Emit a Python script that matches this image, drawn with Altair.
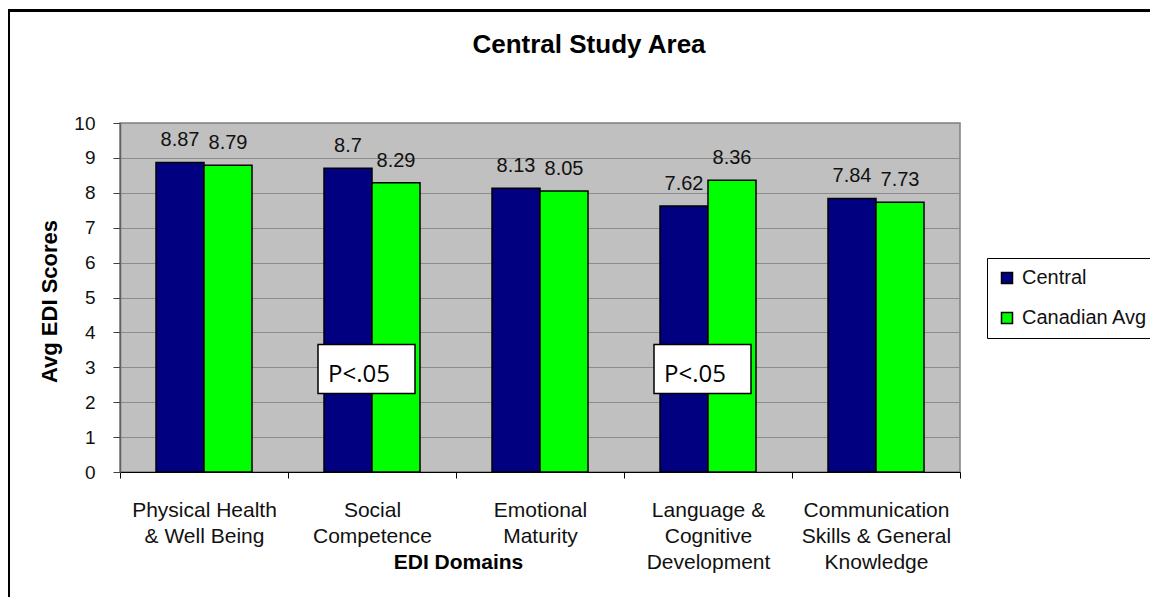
import altair as alt
import pandas as pd

# ---------------- data ----------------
TITLE = "Central Study Area"
X_TITLE = "EDI Domains"
Y_TITLE = "Avg EDI Scores"
categories = [
    "Physical Health|& Well Being",
    "Social|Competence",
    "Emotional|Maturity",
    "Language &|Cognitive|Development",
    "Communication|Skills & General|Knowledge",
]
series = ["Central", "Canadian Avg"]
central = [8.87, 8.7, 8.13, 7.62, 7.84]
canadian = [8.79, 8.29, 8.05, 8.36, 7.73]
central_labels = ["8.87", "8.7", "8.13", "7.62", "7.84"]
canadian_labels = ["8.79", "8.29", "8.05", "8.36", "7.73"]
colors = ["#000080", "#00FF00"]
sig_categories = ["Social|Competence", "Language &|Cognitive|Development"]
sig_text = "P<.05"
y_ticks = [0, 1, 2, 3, 4, 5, 6, 7, 8, 9, 10]

rows = []
for i, c in enumerate(categories):
    rows.append({"category": c, "series": series[0], "value": central[i], "label": central_labels[i]})
    rows.append({"category": c, "series": series[1], "value": canadian[i], "label": canadian_labels[i]})
df = pd.DataFrame(rows)

sig_df = pd.DataFrame({
    "category": sig_categories,
    "value": [2.25] * len(sig_categories),
    "value2": [3.65] * len(sig_categories),
    "text": [sig_text] * len(sig_categories),
})

FONT = "Liberation Sans"

x_axis = alt.Axis(
    title=X_TITLE,
    labelExpr="split(datum.label, '|')",
    labelAngle=0,
    labelFont=FONT,
    labelFontSize=21,
    labelLineHeight=26,
    labelBaseline="top",
    labelPadding=21,
    labelColor="#111111",
    labelOverlap=False,
    tickSize=6,
    tickBand="extent",
    tickColor="#000000",
    domainColor="#000000",
    domainWidth=1,
    grid=False,
    titleFont=FONT,
    titleFontSize=21,
    titleFontWeight="bold",
    titleX=338,
    titleY=96,
    titleAlign="center",
    titleBaseline="alphabetic",
    titleColor="#000000",
)

y_axis = alt.Axis(
    title=Y_TITLE,
    values=y_ticks,
    tickCount=len(y_ticks) + 2,
    labelOverlap=False,
    labelFont=FONT,
    labelFontSize=19,
    labelPadding=18,
    labelColor="#111111",
    tickSize=7,
    tickColor="#404040",
    domainColor="#606060",
    domainWidth=1.5,
    grid=True,
    gridColor="#8c8c8c",
    gridWidth=1,
    titleFont=FONT,
    titleFontSize=22,
    titleFontWeight="bold",
    titleAngle=270,
    titleX=-71,
    titleY=178,
    titleAlign="center",
    titleBaseline="middle",
    titleColor="#000000",
)

x_scale = alt.Scale(domain=categories, paddingInner=0, paddingOuter=0)
y_scale = alt.Scale(domain=[0, 10], nice=False, zero=True)


def X():
    return alt.X("category:N", sort=categories, scale=x_scale, axis=x_axis)


def Y(field="value"):
    return alt.Y(f"{field}:Q", scale=y_scale, axis=y_axis)


off = alt.XOffset("series:N", sort=series,
                  scale=alt.Scale(domain=series, paddingInner=0, paddingOuter=0.75))

bars = alt.Chart(df).mark_bar(stroke="#000000", strokeWidth=1.5).encode(
    x=X(),
    xOffset=off,
    y=Y(),
    color=alt.Color(
        "series:N",
        sort=series,
        scale=alt.Scale(domain=series, range=colors),
        legend=alt.Legend(
            title=None,
            orient="none",
            legendX=867,
            legendY=135,
            padding=10,
            rowPadding=20,
            symbolType="square",
            symbolSize=121,
            symbolStrokeColor="#000000",
            symbolStrokeWidth=1.5,
            symbolOpacity=1,
            labelFont=FONT,
            labelFontSize=20,
            labelOffset=5,
            labelColor="#111111",
            strokeColor="#000000",
            fillColor="#ffffff",
            cornerRadius=0,
        ),
    ),
)

value_labels = alt.Chart(df).mark_text(
    baseline="alphabetic", align="center", dy=-16, font=FONT, fontSize=20, color="#111111"
).encode(
    x=X(),
    xOffset=off,
    y=Y(),
    text="label:N",
)

sig_boxes = alt.Chart(sig_df).mark_bar(
    width=97, xOffset=-5.5, fill="#ffffff", stroke="#000000", strokeWidth=1.5
).encode(
    x=X(),
    y=Y(),
    y2="value2:Q",
)

sig_text_layer = alt.Chart(sig_df).mark_text(
    align="left", baseline="alphabetic", dx=-44, dy=-11, font="Open Sans", fontSize=24, color="#000000"
).encode(
    x=X(),
    y=Y(),
    text="text:N",
)

title_layer = alt.Chart(pd.DataFrame({"t": [TITLE]})).mark_text(
    align="center", baseline="alphabetic", font=FONT, fontSize=26, fontWeight="bold", color="#000000"
).encode(
    x=alt.value(469),
    y=alt.value(-70),
    text="t:N",
)

frame_df = pd.DataFrame({"k": [0]})
top_border = alt.Chart(frame_df).mark_rule(color="#000000", strokeWidth=3).encode(
    x=alt.value(-113), x2=alt.value(1030), y=alt.value(-112.5)
)
left_border = alt.Chart(frame_df).mark_rule(color="#000000", strokeWidth=3).encode(
    x=alt.value(-111.5), y=alt.value(-114), y2=alt.value(474)
)

chart = alt.layer(
    bars, value_labels, sig_boxes, sig_text_layer, title_layer, top_border, left_border
).properties(
    width=840,
    height=349,
    padding={"left": 112, "top": 115, "right": 190, "bottom": 125},
    autosize=alt.AutoSizeParams(type="none"),
    background="#ffffff",
).configure_view(
    fill="#C0C0C0",
    stroke="#808080",
    strokeWidth=1.5,
)

chart.save("out.html", embed_options={"renderer": "svg", "actions": False})
